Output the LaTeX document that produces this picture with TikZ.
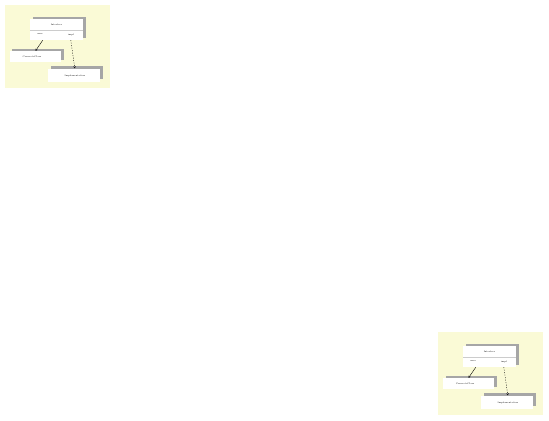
\documentclass[tikz,border=0pt]{standalone}
\usetikzlibrary{shadows,arrows.meta}
\definecolor{paleyellow}{RGB}{250,250,214}
\tikzset{
  umlbox/.style={fill=white, inner sep=0pt,
    drop shadow={shadow xshift=2.5bp, shadow yshift=2.5bp, fill=black!35, opacity=1}},
  tinytext/.style={inner sep=0pt, font=\fontsize{2.2}{2.6}\selectfont},
  link/.style={line width=0.4bp, -{Straight Barb[length=1.6bp, width=2bp]}}
}
\begin{document}
\begin{tikzpicture}[x=1bp,y=-1bp]
  \fill[white] (0,0) rectangle (549,420);
  \useasboundingbox (0,0) rectangle (549,420);

  % same small class diagram, twice
  \foreach \dx/\dy in {0/0, 433/327} {
    \begin{scope}[shift={(\dx,\dy)}]
      \fill[paleyellow] (5,5) rectangle (110,88);

      \node[umlbox, minimum width=53bp, minimum height=21bp] (cls) at (56.5,29.5) {};
      \draw[black!20, line width=0.4bp] (30,30) -- (83,30);
      \node[tinytext] (clsname) at (56.5,24.5) {Interface};
      \node[tinytext] (lbluses) at (40,34.5) {uses};
      \node[tinytext] (lblimpl) at (71,34.5) {impl};

      \node[umlbox, minimum width=51bp, minimum height=11bp] (left) at (35.5,56.5) {};
      \node[tinytext] (leftname) at (32,56.5) {ConcreteClass};

      \node[umlbox, minimum width=52bp, minimum height=13bp] (right) at (74,75) {};
      \node[tinytext] (rightname) at (75,76) {Implementation};

      \draw[link] ([xshift=13bp]cls.south west) -- (left.north);
      \draw[link, dash pattern=on 1bp off 1.5bp] ([xshift=41bp]cls.south west) -- ([xshift=27bp]right.north west);
    \end{scope}
  }
\end{tikzpicture}
\end{document}
